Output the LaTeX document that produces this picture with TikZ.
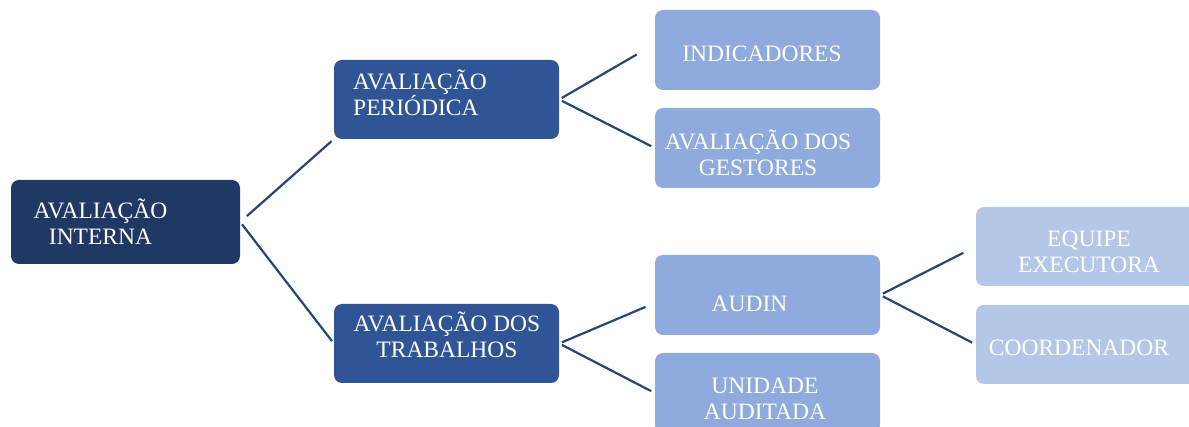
\documentclass[tikz,border=0pt]{standalone}
\usepackage{fontspec}
\setmainfont{Liberation Serif}
\definecolor{navy}{RGB}{32,56,100}
\definecolor{midblue}{RGB}{47,85,151}
\definecolor{lightblue}{RGB}{143,170,220}
\definecolor{paleblue}{RGB}{180,199,231}
\definecolor{linkblue}{RGB}{38,70,118}
\tikzset{font=\fontsize{23.5}{26}\selectfont}
\tikzset{
	box/.style={rounded corners=8pt, minimum width=225pt, minimum height=80pt, inner sep=0pt},
	txt/.style={align=center, inner sep=0pt, text=white},
	link/.style={draw=linkblue, line width=2.2pt, shorten <=3pt}
}

\begin{document}
\begin{tikzpicture}[x=1pt, y=-1pt]
	\useasboundingbox (0,0) rectangle (1189,427);

	% boxes
	\node[box, fill=navy, minimum width=229pt, minimum height=84pt] (interna) at (125.5, 222) {};
	\node[box, fill=midblue, minimum height=79pt] (periodica) at (446.5, 99.5) {};
	\node[box, fill=midblue, minimum height=79pt] (trabalhos) at (446.5, 343.5) {};
	\node[box, fill=lightblue] (indicadores) at (767.5, 50) {};
	\node[box, fill=lightblue] (gestores) at (767.5, 148) {};
	\node[box, fill=lightblue] (audin) at (767.5, 295) {};
	\node[box, fill=lightblue] (unidade) at (767.5, 393) {};
	\node[box, fill=paleblue, minimum height=79pt] (equipe) at (1088.5, 246.5) {};
	\node[box, fill=paleblue, minimum height=79pt] (coordenador) at (1088.5, 344.5) {};

	% texts
	\node[txt] (interna-t) at (100.5, 222) {AVALIAÇÃO\\INTERNA};
	\node[txt, align=left] (periodica-t) at (420, 92.5) {AVALIAÇÃO\\PERIÓDICA};
	\node[txt] (trabalhos-t) at (447, 334.5) {AVALIAÇÃO DOS\\TRABALHOS};
	\node[txt] (indicadores-t) at (762, 53.5) {INDICADORES};
	\node[txt] (gestores-t) at (758, 152.5) {AVALIAÇÃO DOS\\GESTORES};
	\node[txt] (audin-t) at (749.5, 303.5) {AUDIN};
	\node[txt] (unidade-t) at (765, 399) {UNIDADE\\AUDITADA};
	\node[txt] (equipe-t) at (1089, 252) {EQUIPE\\EXECUTORA};
	\node[txt] (coordenador-t) at (1079, 347.5) {COORDENADOR};

	% connectors
	\draw[link, shorten <=9pt, shorten >=3pt] (interna.east) -- (periodica.south west);
	\draw[link, shorten >=3pt] (interna.east) -- (trabalhos.west);
	\draw[link, shorten >=21pt] (periodica.east) -- ([yshift=6pt]indicadores.west);
	\draw[link, shorten >=4pt] (periodica.east) -- (gestores.west);
	\draw[link, shorten >=10pt] (trabalhos.east) -- ([yshift=-8pt]audin.west);
	\draw[link, shorten >=4pt] (trabalhos.east) -- (unidade.west);
	\draw[link, shorten >=14pt] (audin.east) -- (equipe.west);
	\draw[link, shorten >=4pt] (audin.east) -- (coordenador.west);
\end{tikzpicture}
\end{document}
